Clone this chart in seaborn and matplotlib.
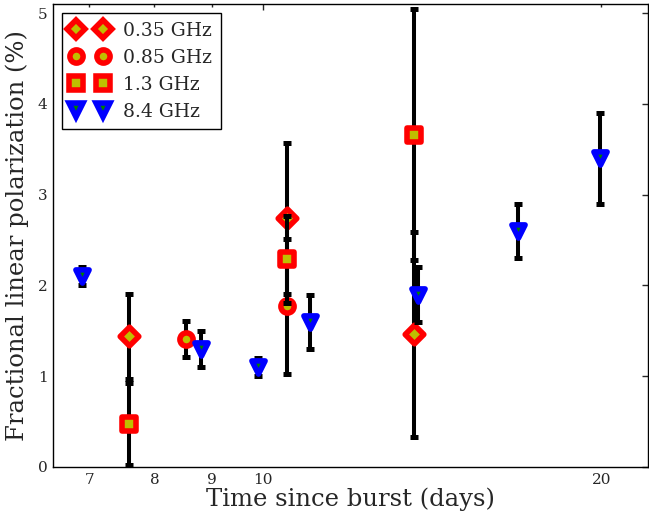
import matplotlib
matplotlib.use('Agg')
import matplotlib.pyplot as plt
import seaborn as sns
from matplotlib.lines import Line2D
from matplotlib.ticker import FixedLocator, FixedFormatter

sns.set_style('white')
plt.rcParams['font.family'] = ['DejaVu Serif']
plt.rcParams['xtick.direction'] = 'in'
plt.rcParams['ytick.direction'] = 'in'

# data
labels = ['0.35 GHz', '0.85 GHz', '1.3 GHz', '8.4 GHz']

x_035 = [7.60, 10.50, 13.63]
y_035 = [1.44, 2.74, 1.46]
e_035 = [0.47, 0.83, 1.13]

x_085 = [8.54, 10.50]
y_085 = [1.41, 1.77]
e_085 = [0.20, 0.745]

x_13 = [7.60, 10.50, 13.63]
y_13 = [0.47, 2.29, 3.66]
e_13 = [0.45, 0.48, 1.38]

x_84 = [6.90, 8.81, 9.90, 11.01, 13.74, 16.84, 19.95]
y_84 = [2.1, 1.3, 1.1, 1.6, 1.9, 2.6, 3.4]
e_84 = [0.1, 0.2, 0.1, 0.3, 0.3, 0.3, 0.5]

yticks = [0, 1, 2, 3, 4, 5]

# x, y, err, marker, edge colour, face colour
series = [
    (x_035, y_035, e_035, 'D', 'r', 'y'),
    (x_085, y_085, e_085, 'o', 'r', 'y'),
    (x_13, y_13, e_13, 's', 'r', 'y'),
    (x_84, y_84, e_84, 'v', 'b', 'g'),
]
ms = 9.5
mew = 4

fig = plt.figure(figsize=(6.49, 5.16), dpi=100)
ax = fig.add_axes([53/649, 49/516, 595/649, 463/516])
ax.set_xscale('log')

z = 2
handles = []
for (xs, ys, es, mk, ec, fc), lab in zip(series, labels):
    ax.errorbar(xs, ys, yerr=es, fmt='none', ecolor='k', elinewidth=2.9,
                capsize=3, capthick=3.6, zorder=z)
    sns.scatterplot(x=xs, y=ys, marker=mk, s=ms**2, color=fc, edgecolor=ec,
                    linewidth=mew, ax=ax, zorder=z + 1)
    ax.collections[-1].set_joinstyle('round')
    handles.append(Line2D([], [], ls='none', marker=mk, markersize=ms,
                          markeredgewidth=mew, markeredgecolor=ec,
                          markerfacecolor=fc, label=lab))
    z += 2

ax.set_xlim(6.5, 22)
ax.set_ylim(0, 5.1)
ax.xaxis.set_major_locator(FixedLocator([10]))
ax.xaxis.set_minor_locator(FixedLocator([7, 8, 9, 20]))
ax.xaxis.set_major_formatter(FixedFormatter(['10']))
ax.xaxis.set_minor_formatter(FixedFormatter(['7', '8', '9', '20']))
ax.set_yticks(yticks)
ax.tick_params(which='both', top=True, right=True, labelsize=11)
ax.tick_params(axis='x', which='both', pad=4)
ax.tick_params(axis='y', which='both', pad=4)
ax.tick_params(which='major', length=4.5, width=1)
ax.tick_params(which='minor', length=2.5, width=1)
for sp in ax.spines.values():
    sp.set_color('k')
    sp.set_linewidth(1)

ax.set_xlabel('Time since burst (days)', fontsize=17.5, labelpad=1)
ax.set_ylabel('Fractional linear polarization (%)', fontsize=17.5, labelpad=6)

leg = ax.legend(handles=handles, loc='upper left', numpoints=2, fontsize=13.5,
                frameon=True, fancybox=False, edgecolor='k', framealpha=1,
                borderaxespad=0.5, labelspacing=0.48, handlelength=2.0,
                handletextpad=0.8, borderpad=0.45)
leg.get_frame().set_linewidth(1)

fig.savefig('out.png', dpi=100)
